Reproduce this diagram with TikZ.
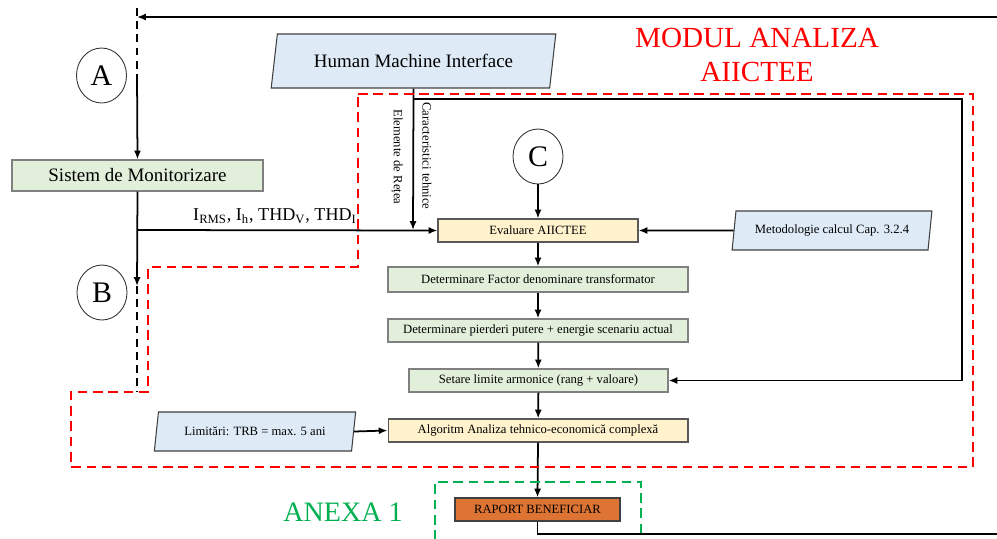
\documentclass[tikz,border=0pt]{standalone}
\usepackage{fontspec}
\setmainfont{Liberation Serif}
\usepackage{tikz}
\usetikzlibrary{positioning,arrows.meta,shapes.geometric}

\definecolor{boxgreen}{RGB}{226,239,218}
\definecolor{boxyellow}{RGB}{255,242,204}
\definecolor{boxblue}{RGB}{222,235,247}
\definecolor{boxorange}{RGB}{221,116,52}
\definecolor{annexgreen}{RGB}{0,176,80}

\begin{document}
\begin{tikzpicture}[x=0.02cm, y=-0.02cm,
  >={Latex[length=5pt,width=4pt]},
  every node/.style={inner sep=1pt},
  flow/.style={draw, line width=1pt},
  greenbox/.style={rectangle, draw=black!50, line width=0.7pt, fill=boxgreen, font=\fontsize{7.2}{8.6}\selectfont},
  yellowbox/.style={rectangle, draw=black!65, line width=0.6pt, fill=boxyellow, font=\fontsize{7.2}{8.6}\selectfont},
  databox/.style={trapezium, trapezium stretches=true, draw=black!75, line width=0.6pt, fill=boxblue, font=\fontsize{7.2}{8.6}\selectfont},
  connector/.style={ellipse, draw=black!80, line width=0.5pt, minimum width=1cm, minimum height=1.1cm, font=\fontsize{17}{20}\selectfont},
  zone/.style={dash pattern=on 5.5pt off 3.2pt, line width=1.4pt}]
\useasboundingbox (0,0) rectangle (997,538);

% Connectors between pages
\node[connector] (A) at (101.5,75.5) {A};
\node[connector] (B) at (102,292.5) {B};
\node[connector] (C) at (538,156.5) {C};

% Inputs
\node[greenbox, minimum width=5.02cm, minimum height=0.62cm, font=\fontsize{10.8}{13}\selectfont] (mon) at (137.5,175.5) {Sistem de Monitorizare};
\node[databox, trapezium left angle=75, trapezium right angle=105, minimum width=5.7cm, minimum height=1.08cm, font=\fontsize{10.8}{13}\selectfont] (hmi) at (413.5,61) {Human Machine Interface};
\node[databox, trapezium left angle=78, trapezium right angle=102, minimum width=4cm, minimum height=0.78cm] (meto) at (832,230.5) {Metodologie calcul Cap. 3.2.4};
\node[databox, trapezium left angle=76, trapezium right angle=104, minimum width=4.04cm, minimum height=0.78cm] (lim) at (255,431.5) {Limitări: TRB = max. 5 ani};

% Main flow
\node[yellowbox, minimum width=4cm, minimum height=0.46cm] (eval) at (538,230.5) {Evaluare AIICTEE};
\node[greenbox, minimum width=6cm, minimum height=0.5cm] (fac) at (538,279.5) {Determinare Factor denominare transformator};
\node[greenbox, minimum width=6cm, minimum height=0.46cm] (pier) at (538,330.5) {Determinare pierderi putere + energie scenariu actual};
\node[greenbox, minimum width=5.18cm, minimum height=0.46cm] (set) at (538.5,380.5) {Setare limite armonice (rang + valoare)};
\node[yellowbox, minimum width=6cm, minimum height=0.46cm] (alg) at (538,430.5) {Algoritm Analiza tehnico-economică complexă};
\node[rectangle, draw=black!75, line width=0.6pt, fill=boxorange, minimum width=3.3cm, minimum height=0.46cm, font=\fontsize{7.2}{8.6}\selectfont] (rap) at (537.5,509.5) {RAPORT BENEFICIAR};

% Titles and labels
\node[text=red, align=center, font=\fontsize{16.6}{19.5}\selectfont] (title) at (757,55) {MODUL ANALIZA\\AIICTEE};
\node[text=annexgreen, font=\fontsize{16}{19}\selectfont] (anexa) at (343,512) {ANEXA 1};
\node[font=\fontsize{10.3}{12}\selectfont] (meas) at (275,216) {I\textsubscript{RMS}, I\textsubscript{h}, THD\textsubscript{V}, THD\textsubscript{I}};
\node[rotate=-90, font=\fontsize{7.2}{8.6}\selectfont] (elem) at (397,157) {Elemente de Rețea};
\node[rotate=-90, font=\fontsize{7.2}{8.6}\selectfont] (carac) at (427,156) {Caracteristici tehnice};

% Helper points
\coordinate (topR) at (997,17);
\coordinate (topL) at (137,17);
\coordinate (dashT) at (137,8);
\coordinate (dashA) at (137,75);
\coordinate (tapB) at (137,286);
\coordinate (dashB) at (137,392);
\coordinate (tapM) at (137,230);
\coordinate (tapH) at (413,230);
\coordinate (hmiT) at (413,99);
\coordinate (loopR) at (962,99);
\coordinate (loopS) at (962,380.5);
\coordinate (rapD) at (537.5,534);
\coordinate (botR) at (997,534);

% Feedback and inputs
\draw[flow, ->] (topR) -- (topL);
\draw[flow, dash pattern=on 4.5pt off 3pt] (dashT) -- (dashA);
\draw[flow, ->] (dashA) -- (mon.north);
\draw[flow, ->] (mon.south) -- (tapB);
\draw[flow, dash pattern=on 4.5pt off 3pt] (tapB) -- (dashB);
\draw[flow, ->] (tapM) -- (eval.west);
\draw[flow, ->] (hmi.south) -- (tapH);
\draw[flow, ->] (hmiT) -- (loopR) -- (loopS) -- (set.east);
\draw[flow, ->] (meto.west) -- (eval.east);
\draw[flow, ->] (lim.east) -- (alg.west);

% Main chain
\draw[flow, ->] (C) -- (eval);
\draw[flow, ->] (eval) -- (fac);
\draw[flow, ->] (fac) -- (pier);
\draw[flow, ->] (pier) -- (set);
\draw[flow, ->] (set) -- (alg);
\draw[flow, ->] (alg.south) -- (rap.north);
\draw[flow] (rap.south) -- (rapD) -- (botR);

% Zones
\draw[zone, red] (358,94) -- (973,94) -- (973,467) -- (71,467) -- (71,392) -- (148,392) -- (148,267) -- (358,267) -- cycle;
\draw[zone, annexgreen, line width=1.2pt] (435,540) -- (435,482) -- (641,482) -- (641,540);
\end{tikzpicture}
\end{document}
